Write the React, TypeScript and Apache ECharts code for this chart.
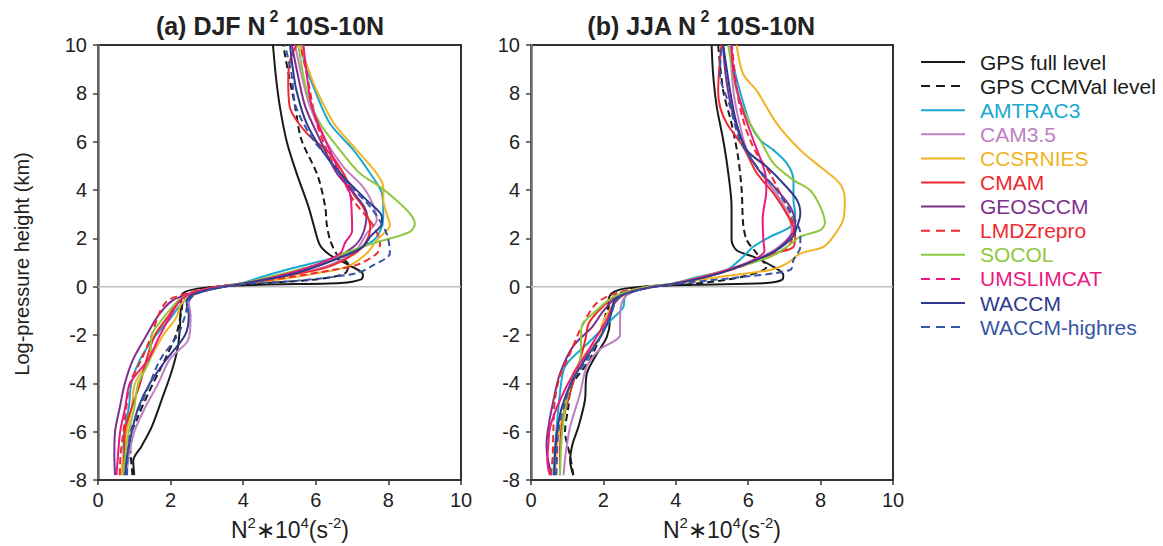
import React, { useEffect, useRef } from 'react';
import * as echarts from 'echarts';

const seriesNames = ['GPS full level', 'GPS CCMVal level', 'AMTRAC3', 'CAM3.5', 'CCSRNIES', 'CMAM', 'GEOSCCM', 'LMDZrepro', 'SOCOL', 'UMSLIMCAT', 'WACCM', 'WACCM-highres'];
const seriesColors = ['#1a1a1a', '#1a1a1a', '#19a9cf', '#c07fc2', '#f0b323', '#ee2a2f', '#7d2f8e', '#ee2a2f', '#8fc73e', '#ea1a7f', '#2e3a8c', '#3655a5'];
const seriesDashed = [false, true, false, false, false, false, false, true, false, true, false, true];
const plotDashed = [false, true, false, false, false, false, false, true, false, false, false, true];

const panelTitles = ['(a) DJF N', '(b) JJA N'];
const xTicks = { min: 0, max: 10, interval: 2 };
const yTicks = { min: -8, max: 10, interval: 2 };

// DJF (x = N^2*1e4, y = log-pressure height km)
const djfGpsFull = [[1.0,-7.8],[0.97,-7.2],[1.2,-6.6],[1.48,-5.8],[1.75,-4.7],[2.03,-3.5],[2.2,-2.5],[2.26,-1.6],[2.28,-0.8],[2.32,-0.3],[2.9,-0.05],[4.5,0.08],[6.7,0.15],[7.25,0.3],[7.3,0.5],[6.9,0.9],[6.4,1.3],[6.12,1.7],[5.95,2.5],[5.8,3.3],[5.47,4.7],[5.2,6.0],[5.01,7.45],[4.9,8.7],[4.82,10]];
const djfGpsCcmval = [[0.95,-7.8],[0.9,-7.0],[0.88,-6.3],[1.07,-5.5],[1.39,-4.4],[1.85,-3.0],[2.17,-1.9],[2.3,-1.0],[2.4,-0.4],[3.2,-0.02],[4.6,0.15],[6.0,0.3],[6.8,0.55],[6.9,0.9],[6.6,1.3],[6.4,1.9],[6.3,2.6],[6.26,3.3],[6.05,4.6],[5.6,6.1],[5.43,7.45],[5.25,8.8],[5.1,10]];
const djfAmtrac3 = [[0.72,-7.8],[0.7,-7],[0.72,-6],[0.85,-5],[0.92,-4],[1.16,-3],[1.6,-2],[2.0,-1.3],[2.3,-0.7],[2.6,-0.35],[3.3,-0.02],[3.9,0.12],[4.5,0.4],[5.4,0.78],[6.5,1.2],[7.2,1.6],[7.6,1.93],[7.82,2.48],[7.86,3.03],[7.82,3.86],[7.5,4.68],[7.04,5.65],[6.39,6.75],[5.98,8.1],[5.7,9.2],[5.6,10]];
const djfCam35 = [[0.78,-7.8],[0.85,-7],[1.0,-6],[1.3,-5],[1.66,-4],[1.98,-3],[2.45,-2.3],[2.53,-1.9],[2.55,-1.2],[2.5,-0.6],[2.7,-0.3],[3.4,-0.02],[3.9,0.12],[5.2,0.45],[6.4,0.9],[7.1,1.5],[7.4,2.2],[7.68,2.76],[7.6,3.31],[7.3,4.13],[6.76,4.96],[6.26,6.07],[5.84,7.45],[5.6,8.8],[5.43,10]];
const djfCcsrnies = [[0.63,-7.8],[0.7,-7],[0.79,-6],[0.93,-5],[1.02,-4],[1.43,-3],[1.8,-2],[2.15,-1.3],[2.3,-0.7],[2.6,-0.35],[3.3,-0.02],[3.9,0.12],[5.0,0.3],[6.0,0.55],[6.85,0.82],[7.4,1.37],[7.68,1.93],[8.04,2.54],[7.95,3.03],[7.86,3.58],[7.86,4.13],[7.68,4.68],[7.13,5.65],[6.5,6.75],[6.03,8.1],[5.84,8.8],[5.57,10]];
const djfCmam = [[0.7,-7.8],[0.72,-7],[0.74,-6],[0.93,-5],[1.16,-4],[1.34,-3],[1.57,-2],[1.95,-1.2],[2.2,-0.6],[2.5,-0.3],[3.2,-0.02],[3.9,0.1],[5.0,0.4],[6.3,0.8],[7.1,1.4],[7.4,1.9],[7.5,2.5],[7.3,3.3],[7.03,3.86],[6.76,4.69],[6.39,5.5],[5.75,6.35],[5.28,7.45],[5.24,8.6],[5.3,9.4],[5.47,10]];
const djfGeosccm = [[0.47,-7.8],[0.45,-7],[0.47,-6],[0.6,-5],[0.74,-4],[0.97,-3],[1.34,-2],[1.66,-1.2],[2.03,-0.6],[2.5,-0.3],[3.3,-0.02],[3.9,0.1],[5.2,0.5],[6.3,1.0],[7.04,1.65],[7.3,2.2],[7.4,3.03],[7.13,3.72],[6.58,4.69],[6.12,6.07],[5.71,7.45],[5.5,8.8],[5.34,10]];
const djfLmdzrepro = [[0.6,-7.8],[0.62,-7],[0.7,-6],[0.78,-5],[0.88,-4],[1.2,-3],[1.48,-2],[1.66,-1.2],[1.9,-0.6],[2.4,-0.3],[3.2,-0.02],[3.9,0.12],[5.3,0.4],[6.5,0.7],[7.13,0.9],[7.68,1.37],[7.77,1.79],[7.6,2.48],[7.4,2.89],[7.03,3.58],[6.76,4.41],[6.39,5.37],[6.03,6.75],[5.75,8.8],[5.57,10]];
const djfSocol = [[0.7,-7.8],[0.75,-7],[0.85,-6],[1.0,-5],[1.11,-4],[1.43,-3],[1.48,-2],[1.85,-1.2],[2.2,-0.6],[2.55,-0.3],[3.3,-0.02],[3.9,0.12],[5.0,0.5],[6.1,0.95],[6.76,1.37],[7.6,1.8],[8.59,2.27],[8.73,2.6],[8.59,3.03],[8.22,3.58],[7.77,4.13],[7.22,4.68],[6.67,5.65],[6.12,6.75],[5.75,8.1],[5.52,10]];
const djfUmslimcat = [[0.51,-7.8],[0.55,-7],[0.61,-6],[0.75,-5],[0.88,-4],[1.39,-3],[1.71,-2],[2.0,-1.2],[2.25,-0.6],[2.55,-0.3],[3.3,-0.02],[3.9,0.1],[5.0,0.45],[6.0,0.9],[6.67,1.37],[6.8,1.8],[7.0,2.3],[6.99,3.03],[6.94,3.86],[6.67,4.69],[6.26,6.07],[5.89,7.45],[5.75,8.8],[5.66,10]];
const djfWaccm = [[0.75,-7.8],[0.8,-7],[0.93,-6],[1.11,-5],[1.43,-4],[1.89,-3],[2.4,-2],[2.5,-1.2],[2.44,-0.6],[2.65,-0.3],[3.4,-0.02],[3.9,0.1],[5.3,0.5],[6.5,1.1],[7.3,1.65],[7.5,2.07],[7.82,2.62],[7.82,2.89],[7.4,3.58],[6.85,4.41],[6.3,5.37],[5.75,6.75],[5.47,8.1],[5.35,9.2],[5.29,10]];
const djfWaccmHighres = [[0.8,-7.8],[0.82,-7],[0.9,-6],[1.15,-5],[1.43,-4],[1.72,-3],[2.2,-2],[2.4,-1.2],[2.5,-0.6],[2.7,-0.3],[3.4,-0.02],[3.9,0.1],[5.5,0.25],[7.1,0.55],[7.6,0.9],[8.04,1.38],[7.95,2.2],[7.5,3.3],[6.8,4.4],[6.3,5.4],[5.93,6.07],[5.45,7.45],[5.33,8.8],[5.15,10]];

// JJA
const jjaGpsFull = [[1.17,-7.8],[1.08,-7.2],[1.15,-6.5],[1.31,-5.8],[1.49,-4.7],[1.54,-3.6],[1.81,-2.8],[2.09,-2.1],[2.18,-1.4],[2.14,-0.7],[2.23,-0.27],[2.74,-0.05],[4.5,0.08],[6.5,0.15],[6.95,0.3],[6.97,0.48],[6.7,0.82],[6.14,1.24],[5.68,1.51],[5.54,1.93],[5.54,2.48],[5.54,3.31],[5.45,4.69],[5.31,6.07],[5.13,7.45],[5.03,8.8],[4.99,10]];
const jjaGpsCcmval = [[1.17,-7.8],[1.08,-7.0],[0.94,-6.0],[1.03,-5.0],[1.12,-4.1],[1.63,-3.0],[1.95,-1.9],[2.09,-1.0],[2.3,-0.4],[3.0,-0.03],[4.5,0.12],[5.8,0.4],[6.5,0.82],[6.24,1.37],[5.96,1.93],[5.86,2.62],[5.82,3.99],[5.72,5.37],[5.54,6.75],[5.31,8.1],[5.17,10]];
const jjaAmtrac3 = [[0.62,-7.8],[0.65,-7],[0.71,-5.8],[0.8,-4.4],[0.9,-3.45],[1.08,-3.03],[1.6,-2.3],[2.2,-1.4],[2.55,-0.85],[2.6,-0.4],[3.2,-0.03],[3.9,0.12],[4.6,0.4],[5.41,0.69],[5.86,1.24],[6.14,1.65],[6.61,2.07],[7.16,2.48],[7.3,3.0],[7.25,3.58],[7.25,4.41],[7.07,5.1],[6.7,5.65],[6.33,6.07],[6.05,6.75],[5.77,8.1],[5.45,10]];
const jjaCam35 = [[0.9,-7.8],[0.95,-7],[1.08,-5.8],[1.36,-4.4],[1.54,-3.3],[1.9,-2.6],[2.46,-2.0],[2.46,-1.4],[2.5,-0.7],[2.7,-0.3],[3.3,-0.03],[3.9,0.12],[5.0,0.5],[6.0,1.0],[6.8,1.6],[7.2,2.3],[7.1,3.0],[6.8,3.8],[6.4,4.6],[6.0,5.5],[5.8,6.5],[5.6,8.0],[5.5,10]];
const jjaCcsrnies = [[0.66,-7.8],[0.7,-7],[0.74,-6.3],[0.9,-5.2],[1.17,-3.6],[1.54,-2.7],[1.9,-2.1],[1.95,-1.6],[2.2,-0.9],[2.5,-0.4],[3.2,-0.03],[3.9,0.12],[5.2,0.4],[6.61,0.69],[7.07,0.96],[7.44,1.37],[8.08,1.65],[8.35,2.07],[8.62,2.76],[8.67,3.58],[8.53,4.27],[7.99,4.96],[7.44,5.65],[6.79,6.75],[6.24,8.1],[5.86,8.8],[5.68,10]];
const jjaCmam = [[0.8,-7.8],[0.8,-7],[0.85,-5.8],[1.08,-4.4],[1.36,-3.0],[1.5,-2.2],[1.6,-1.5],[2.0,-0.8],[2.4,-0.35],[3.2,-0.03],[3.9,0.1],[5.2,0.6],[6.24,1.1],[6.7,1.37],[7.25,1.65],[7.3,2.2],[7.11,2.89],[6.7,3.86],[6.24,4.69],[5.86,5.79],[5.41,6.75],[5.22,7.45],[5.17,8.1],[5.26,10]];
const jjaGeosccm = [[0.57,-7.8],[0.45,-7],[0.43,-6.5],[0.48,-5.8],[0.62,-4.7],[0.8,-3.6],[1.17,-2.45],[1.7,-1.65],[2.0,-1.0],[2.4,-0.4],[3.2,-0.03],[3.9,0.1],[5.2,0.55],[6.4,1.2],[7.0,1.8],[7.3,2.5],[7.2,3.2],[6.8,4.0],[6.3,4.8],[5.9,5.8],[5.6,7.0],[5.4,8.5],[5.3,10]];
const jjaLmdzrepro = [[0.55,-7.8],[0.6,-7],[0.62,-5.8],[0.66,-4.7],[0.8,-3.7],[1.08,-2.76],[1.4,-1.65],[1.8,-0.7],[2.3,-0.3],[3.1,-0.03],[3.9,0.12],[5.3,0.6],[6.5,1.2],[7.1,1.65],[7.25,2.34],[7.16,3.03],[6.88,3.86],[6.6,4.69],[6.2,5.6],[5.9,6.7],[5.7,8.0],[5.55,10]];
const jjaSocol = [[0.8,-7.8],[0.82,-7],[0.85,-6.2],[0.94,-5.1],[1.08,-4.1],[1.36,-3.0],[1.4,-1.65],[1.8,-1.0],[2.3,-0.4],[3.1,-0.03],[3.9,0.12],[5.2,0.6],[6.61,1.24],[7.07,1.65],[7.44,2.07],[7.99,2.34],[8.12,2.62],[7.99,3.31],[7.71,3.99],[7.25,4.41],[6.7,5.1],[6.33,6.07],[6.05,6.75],[5.68,8.1],[5.45,10]];
const jjaUmslimcat = [[0.52,-7.8],[0.45,-7.2],[0.48,-6.5],[0.53,-5.8],[0.8,-4.7],[1.17,-3.6],[1.54,-2.76],[1.81,-2.07],[2.09,-1.38],[2.3,-0.7],[2.6,-0.3],[3.3,-0.03],[3.9,0.1],[5.0,0.5],[6.0,1.0],[6.45,1.5],[6.42,1.93],[6.4,2.8],[6.5,3.99],[6.47,4.69],[6.14,6.07],[5.82,7.45],[5.6,8.8],[5.54,10]];
const jjaWaccm = [[0.65,-7.8],[0.66,-7],[0.72,-6],[0.85,-5],[1.1,-4],[1.5,-3],[1.95,-2],[2.2,-1.2],[2.3,-0.6],[2.6,-0.3],[3.3,-0.03],[3.9,0.1],[5.2,0.55],[6.61,1.37],[7.2,2.0],[7.35,2.48],[7.44,3.03],[7.35,3.58],[6.97,4.27],[6.51,4.96],[5.96,5.65],[5.68,6.75],[5.5,8.1],[5.31,10]];
const jjaWaccmHighres = [[0.7,-7.8],[0.72,-7],[0.75,-6],[0.9,-5],[1.12,-4],[1.55,-3],[1.95,-2],[2.2,-1.2],[2.35,-0.6],[2.6,-0.3],[3.3,-0.03],[3.9,0.1],[5.5,0.35],[7.16,0.69],[7.25,1.1],[7.44,1.65],[7.44,2.2],[7.25,2.89],[6.79,3.99],[6.24,4.96],[5.77,6.07],[5.5,7.45],[5.22,8.8],[5.26,10]];

const djfData = [djfGpsFull, djfGpsCcmval, djfAmtrac3, djfCam35, djfCcsrnies, djfCmam, djfGeosccm, djfLmdzrepro, djfSocol, djfUmslimcat, djfWaccm, djfWaccmHighres];
const jjaData = [jjaGpsFull, jjaGpsCcmval, jjaAmtrac3, jjaCam35, jjaCcsrnies, jjaCmam, jjaGeosccm, jjaLmdzrepro, jjaSocol, jjaUmslimcat, jjaWaccm, jjaWaccmHighres];
const zeroLine = [[0, 0], [10, 0]];

const FONT = '"Liberation Sans", Arial, Helvetica, sans-serif';

export default function App() {
  const ref = useRef<HTMLDivElement>(null);
  useEffect(() => {
    document.body.style.margin = '0';
    if (!ref.current) return;
    const chart = echarts.init(ref.current, null, { renderer: 'svg' });
    const grids = [
      { left: 98, top: 45, width: 363, height: 435 },
      { left: 531, top: 45, width: 362, height: 435 },
    ];
    const xAxes = grids.map((_, i) => ({
      type: 'value', gridIndex: i, min: xTicks.min, max: xTicks.max, interval: xTicks.interval,
      axisLine: { show: true, onZero: false, lineStyle: { color: '#333', width: 2 } },
      axisTick: { show: true, inside: false, length: 5, lineStyle: { color: '#333', width: 1.5 } },
      axisLabel: { margin: 10, color: '#222', fontSize: 20, fontFamily: FONT },
      splitLine: { show: false },
    }));
    const yAxes = grids.map((_, i) => ({
      type: 'value', gridIndex: i, min: yTicks.min, max: yTicks.max, interval: yTicks.interval,
      axisLine: { show: true, onZero: false, lineStyle: { color: '#6e6e6e', width: 2.5 } },
      axisTick: { show: true, inside: false, length: 5, lineStyle: { color: '#444', width: 1.5 } },
      axisLabel: { margin: 11, color: '#222', fontSize: 20, fontFamily: FONT },
      splitLine: { show: false },
    }));
    const series: any[] = [];
    [djfData, jjaData].forEach((panel, p) => {
      series.push({
        type: 'line', xAxisIndex: p, yAxisIndex: p, data: zeroLine, symbol: 'none', silent: true,
        lineStyle: { color: '#bdbdbd', width: 1.5 }, z: 1,
      });
      panel.forEach((d, i) => {
        series.push({
          name: seriesNames[i], type: 'line', xAxisIndex: p, yAxisIndex: p, data: d,
          symbol: 'none', smooth: 0.3, z: 2,
          lineStyle: { color: seriesColors[i], width: 2, type: plotDashed[i] ? [7, 4] : 'solid' },
        });
      });
    });
    const graphic: any[] = [];
    const titleX = [270, 701];
    panelTitles.forEach((t, i) => {
      graphic.push({
        type: 'text', x: titleX[i], y: 23,
        style: {
          text: `{m|${t}}{s|2}{m| 10S-10N}`, align: 'center', verticalAlign: 'middle',
          rich: {
            m: { fontSize: 25, fontWeight: 'bold', fontFamily: FONT, fill: '#222', lineHeight: 30, verticalAlign: 'bottom' },
            s: { fontSize: 16, fontWeight: 'bold', fontFamily: FONT, fill: '#222', lineHeight: 18, verticalAlign: 'top', padding: [0, 0, 0, 4] },
          },
        },
      });
    });
    const xNameX = [290, 722];
    xNameX.forEach((x) => {
      graphic.push({
        type: 'text', x, y: 528,
        style: {
          text: '{m|N}{s|2}{m|∗10}{s|4}{m|(s}{s|-2}{m|)}', align: 'center', verticalAlign: 'middle',
          rich: {
            m: { fontSize: 23, fontFamily: FONT, fill: '#222', lineHeight: 26, verticalAlign: 'bottom' },
            s: { fontSize: 15, fontFamily: FONT, fill: '#222', lineHeight: 15, verticalAlign: 'top' },
          },
        },
      });
    });
    graphic.push({
      type: 'text', x: 22, y: 264, rotation: Math.PI / 2,
      style: { text: 'Log-pressure height (km)', align: 'center', verticalAlign: 'middle', fontSize: 20, fontFamily: FONT, fill: '#222' },
    });
    seriesNames.forEach((n, i) => {
      const y = 62 + i * 24.1;
      graphic.push({
        type: 'line', shape: { x1: 921, y1: y, x2: 965, y2: y },
        style: { stroke: seriesColors[i], lineWidth: 2, lineDash: seriesDashed[i] ? [9, 6] : null },
      });
      graphic.push({
        type: 'text', x: 980, y,
        style: { text: n, align: 'left', verticalAlign: 'middle', fontSize: 21, fontFamily: FONT, fill: seriesColors[i] },
      });
    });
    chart.setOption({
      animation: false,
      grid: grids.map((g) => ({ ...g, show: true, borderColor: '#333', borderWidth: 2, backgroundColor: 'transparent' })),
      xAxis: xAxes,
      yAxis: yAxes,
      series,
      graphic,
    });
    return () => chart.dispose();
  }, []);
  return <div ref={ref} style={{ width: 1163, height: 546 }} />;
}
